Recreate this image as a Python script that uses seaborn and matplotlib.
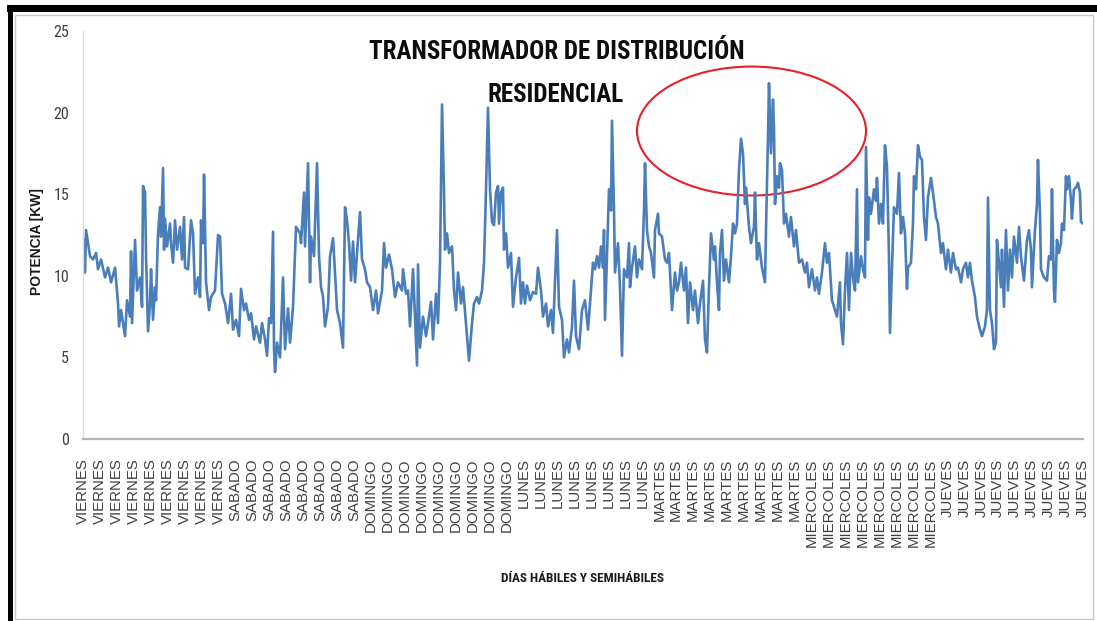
import matplotlib
matplotlib.use("Agg")
import numpy as np
import matplotlib.pyplot as plt
from matplotlib.patches import Arc, Rectangle
from matplotlib import font_manager
import seaborn as sns

# Días (etiquetas del eje X) y cuántas veces se repite cada uno
dias = ['VIERNES', 'SABADO', 'DOMINGO', 'LUNES', 'MARTES', 'MIERCOLES', 'JUEVES']
repeticiones = [9, 8, 9, 8, 9, 8, 9]

# Tiempo desde el inicio de la medición [min] y potencia medida [kW]
tiempo_min = [
    0, 20, 30, 70, 100, 130, 150, 180, 220, 250, 280, 320, 350, 360, 380, 420, 440, 470, 480, 490,
    520, 540, 570, 590, 600, 620, 630, 650, 670, 680, 700, 720, 730, 750, 770, 780, 800, 810, 820, 840,
    870, 880, 900, 920, 940, 970, 990, 1010, 1020, 1050, 1080, 1100, 1120, 1150, 1170, 1180, 1200, 1210, 1230, 1260,
    1280, 1320, 1350, 1370, 1390, 1420, 1450, 1480, 1500, 1530, 1560, 1580, 1610, 1630, 1660, 1680, 1710, 1730, 1770, 1790,
    1820, 1840, 1860, 1880, 1900, 1910, 1920, 1940, 1970, 2000, 2020, 2050, 2070, 2100, 2130, 2170, 2180, 2210, 2220, 2250,
    2270, 2280, 2310, 2340, 2360, 2380, 2400, 2420, 2450, 2470,
    2500, 2520, 2540, 2570, 2600, 2620, 2640, 2660, 2680, 2700, 2720, 2740, 2770, 2790, 2820, 2840, 2870, 2900, 2930, 2950,
    2990, 3010, 3030, 3060, 3090, 3120, 3150, 3190, 3200, 3230, 3250, 3270, 3300, 3320, 3340, 3350, 3370, 3400, 3430, 3450,
    3480, 3500, 3530, 3550, 3570, 3590, 3610, 3620, 3640, 3660, 3690, 3710, 3730, 3750, 3780, 3800, 3840, 3860, 3890, 3910,
    3940, 3960, 3990, 4010, 4030, 4050, 4070, 4090, 4110, 4130, 4150, 4160, 4180, 4200, 4210, 4230, 4250, 4280, 4300, 4330,
    4360, 4380, 4400, 4420, 4440, 4470, 4500, 4530, 4550, 4580, 4600, 4630, 4650, 4680, 4700, 4720, 4740, 4760, 4790, 4810,
    4840, 4860, 4890, 4910, 4930, 4960, 4990,
    5020, 5050, 5070, 5100, 5120, 5140, 5160, 5180, 5200, 5210, 5220, 5240, 5260, 5280, 5290, 5310, 5320, 5350, 5370, 5390,
    5410, 5440, 5460, 5470, 5490, 5520, 5540, 5560, 5590, 5610, 5620, 5640, 5660, 5680, 5710, 5720, 5750, 5760, 5790, 5820,
    5840, 5860, 5890, 5920, 5940, 5960, 5980, 6010, 6030, 6050, 6070, 6100, 6120, 6150, 6170, 6200, 6220, 6240, 6260, 6280,
    6310, 6320, 6340, 6360, 6370, 6390, 6410, 6430, 6460, 6480, 6500, 6520, 6540, 6560, 6580, 6600, 6620, 6630, 6660, 6680,
    6710, 6720, 6740, 6760, 6790, 6820, 6830, 6850, 6860, 6880, 6900, 6910, 6920, 6940, 6960, 6970, 6990, 7010, 7030, 7060,
    7080, 7110, 7130, 7160, 7190, 7220, 7240, 7260, 7290, 7320, 7340, 7360, 7390, 7420, 7440, 7460, 7490,
    7510, 7540, 7570, 7580, 7600, 7620, 7640, 7660, 7680, 7700, 7720, 7740, 7750, 7780, 7800, 7820, 7830, 7850, 7860, 7880,
    7910, 7930, 7940, 7960, 7980, 8000, 8020, 8040, 8060, 8070, 8090, 8110, 8140, 8160, 8180, 8200, 8220, 8240, 8250, 8280,
    8300, 8310, 8330, 8350, 8370, 8390, 8410, 8430, 8450, 8480, 8500, 8530, 8550, 8580, 8600, 8630, 8650, 8680, 8700, 8730,
    8750, 8780, 8800, 8830, 8850, 8870, 8890, 8920, 8940, 8970, 8990, 9020, 9040, 9050, 9070, 9090, 9110, 9130, 9140, 9160,
    9180, 9190, 9210, 9230, 9250, 9270, 9290, 9310, 9340, 9360, 9380, 9410, 9440, 9460, 9480, 9490, 9520, 9540, 9550, 9570,
    9580, 9610, 9640, 9660, 9680, 9690, 9710, 9720, 9740, 9760, 9780, 9790, 9810, 9830, 9840, 9860, 9880, 9890, 9910, 9930,
    9950, 9970, 9980, 10000,
]
potencia_kw = [
    12.3, 10.2, 12.8, 11.2, 11.0, 11.4, 10.4, 11.0, 9.9, 10.5, 9.6, 10.5, 8.3, 6.9, 7.9, 6.3, 8.5, 7.5, 11.5, 7.1,
    12.2, 9.1, 9.9, 8.1, 15.5, 15.1, 11.2, 6.6, 8.3, 10.4, 7.3, 9.3, 8.5, 12.6, 14.2, 12.4, 16.6, 11.6, 13.5, 11.8,
    13.2, 12.0, 10.8, 13.4, 11.6, 13.0, 11.0, 13.6, 10.5, 10.4, 13.4, 12.6, 8.9, 9.9, 8.7, 13.4, 12.0, 16.2, 9.6, 7.9,
    8.7, 9.1, 12.5, 12.4, 8.9, 8.3, 7.1, 8.9, 6.7, 7.3, 6.3, 9.2, 7.9, 8.3, 7.3, 7.7, 6.1, 6.9, 5.9, 7.1,
    6.1, 5.1, 7.4, 7.1, 12.7, 5.5, 4.1, 5.9, 5.0, 9.9, 5.5, 8.0, 5.9, 8.1, 13.0, 12.6, 12.0, 15.1, 11.8, 16.9,
    9.6, 12.4, 11.2, 16.9, 11.2, 9.3, 8.7, 6.9, 8.1, 11.2,
    12.3, 10.2, 7.9, 7.1, 5.6, 14.2, 13.4, 12.0, 9.7, 12.1, 9.6, 11.4, 13.9, 11.0, 10.4, 9.6, 9.3, 7.9, 9.1, 7.7,
    9.1, 12.0, 10.5, 11.3, 10.4, 8.7, 9.6, 9.1, 10.4, 8.9, 9.1, 6.9, 10.4, 7.5, 4.5, 10.7, 5.6, 7.5, 6.3, 7.1,
    8.4, 6.1, 8.9, 7.1, 10.8, 20.5, 15.1, 11.6, 12.6, 11.4, 11.8, 9.1, 7.9, 10.2, 8.3, 9.3, 6.3, 4.8, 7.1, 8.3,
    8.7, 8.3, 9.1, 10.8, 15.3, 20.3, 15.3, 13.3, 13.1, 15.1, 15.5, 13.2, 15.1, 15.4, 11.6, 12.6, 10.5, 11.4, 8.1, 9.9,
    11.1, 8.3, 9.6, 8.3, 9.4, 8.5, 9.0, 8.9, 10.5, 9.1, 7.5, 8.3, 6.9, 7.9, 6.5, 9.7, 12.8, 8.1, 7.3, 5.0,
    6.1, 5.3, 6.9, 9.7, 6.3, 5.5, 7.9,
    8.5, 6.7, 8.3, 10.8, 10.4, 11.2, 10.5, 11.8, 10.5, 12.8, 7.3, 11.2, 15.3, 14.0, 19.5, 14.0, 10.2, 12.0, 9.3, 5.1,
    10.4, 9.9, 12.0, 9.3, 10.5, 11.8, 9.9, 11.0, 10.4, 14.0, 16.9, 12.8, 11.8, 11.4, 9.9, 12.8, 13.8, 12.6, 12.4, 11.0,
    10.8, 11.4, 7.9, 10.2, 9.1, 9.6, 10.8, 9.1, 10.5, 7.1, 9.6, 7.9, 9.1, 7.1, 8.3, 9.7, 6.1, 5.3, 9.3, 12.6,
    11.0, 11.8, 9.6, 7.9, 11.4, 12.8, 9.7, 11.0, 9.6, 11.2, 13.2, 12.6, 13.2, 16.5, 18.4, 17.5, 14.4, 15.4, 13.0, 12.0,
    13.0, 15.1, 11.0, 12.0, 10.5, 9.6, 12.8, 18.5, 21.8, 17.5, 20.8, 19.1, 14.4, 16.1, 15.4, 16.9, 16.5, 13.2, 13.8, 12.4,
    13.6, 11.8, 12.8, 10.8, 11.0, 10.2, 10.8, 9.3, 10.4, 9.1, 9.9, 8.9, 10.2, 12.0, 10.8, 11.4, 8.5,
    8.1, 7.5, 9.6, 7.1, 5.8, 9.1, 11.4, 7.9, 11.4, 9.9, 9.1, 15.3, 9.6, 11.2, 10.4, 9.9, 17.9, 12.2, 14.8, 13.8,
    15.3, 14.6, 16.0, 13.2, 14.4, 13.2, 18.0, 16.7, 11.2, 6.5, 10.5, 14.2, 13.8, 16.3, 12.6, 13.6, 12.6, 9.2, 10.5, 10.8,
    13.2, 16.1, 15.3, 18.0, 17.3, 17.1, 13.6, 12.2, 14.8, 16.0, 15.1, 13.6, 13.2, 11.4, 12.0, 10.4, 11.6, 10.2, 11.4, 10.4,
    10.5, 9.6, 10.4, 10.8, 9.9, 10.8, 9.7, 8.7, 7.5, 6.7, 6.3, 6.9, 7.9, 14.8, 7.9, 7.1, 5.5, 5.9, 12.2, 10.8,
    9.3, 11.6, 8.1, 12.8, 9.1, 11.6, 9.9, 12.4, 10.8, 13.0, 11.2, 9.7, 12.2, 12.8, 11.6, 9.3, 12.8, 14.4, 17.1, 13.8,
    10.4, 9.9, 9.7, 11.2, 11.0, 15.3, 9.1, 8.4, 12.2, 11.4, 12.0, 13.2, 12.8, 16.1, 15.3, 16.1, 14.6, 13.5, 15.3, 15.4,
    15.7, 15.1, 13.3, 13.2,
]

etiquetas_x = [d for d, n in zip(dias, repeticiones) for _ in range(n)]

sns.set_theme(style="white")
plt.rcParams['font.family'] = ['Liberation Sans', 'DejaVu Sans']

# Buscar una fuente condensada instalada, si hay alguna
instaladas = {f.name for f in font_manager.fontManager.ttflist}
condensadas = [f for f in ['Roboto Condensed', 'Liberation Sans Narrow', 'DejaVu Sans Condensed',
                           'Open Sans Condensed'] if f in instaladas]
narrow = condensadas[:1] + ['Liberation Sans', 'DejaVu Sans']
hay_narrow = bool(condensadas)
esc = 1.0 if hay_narrow else 0.8

fig = plt.figure(figsize=(10.97, 6.21), dpi=100)
ax = fig.add_axes([0.0757, 0.2931, 0.9115, 0.657])

sns.lineplot(x=tiempo_min, y=potencia_kw, ax=ax, color='#4a7ebb', linewidth=1.9,
             estimator=None, sort=False)

ax.set_xlim(0, tiempo_min[-1])
ax.set_ylim(0, 25)
ax.set_yticks(range(0, 26, 5))
ax.set_yticklabels([str(v) for v in range(0, 26, 5)], family=narrow, fontsize=11.5 * (esc ** 0.5),
                   color='#404040')
ax.set_xticks(np.linspace(0, tiempo_min[-1], len(etiquetas_x)))
ax.set_xticklabels(etiquetas_x, rotation=90, fontsize=10.8, color='#404040', va='top', ha='center')
ax.tick_params(axis='x', length=0, pad=14)
ax.tick_params(axis='y', length=0, pad=10)

for s in ['top', 'right']:
    ax.spines[s].set_visible(False)
ax.spines['left'].set_color('#d9d9d9')
ax.spines['left'].set_linewidth(1.0)
ax.spines['bottom'].set_color('#b3b3b3')
ax.spines['bottom'].set_linewidth(1.6)

ax.set_xlabel('')
ax.set_ylabel('')
fig.text(37 / 1097, 1 - 242 / 621, 'POTENCIA [KW]', rotation=90, ha='center', va='center',
         fontsize=10, fontweight='bold', color='#1a1a1a')
fig.text(582 / 1097, 1 - 579 / 621, 'DÍAS HÁBILES Y SEMIHÁBILES', ha='center', va='center',
         fontsize=9.5 * esc, fontweight='bold', family=narrow, color='#1a1a1a')

# Título
fig.text(557 / 1097, 1 - 52 / 621, 'TRANSFORMADOR DE DISTRIBUCIÓN', ha='center', va='center',
         fontsize=18 * esc, fontweight='bold', family=narrow, color='#0d0d0d')
fig.text(556 / 1097, 1 - 95 / 621, 'RESIDENCIAL', ha='center', va='center',
         fontsize=18 * esc, fontweight='bold', family=narrow, color='#0d0d0d')

# Elipse roja que resalta el pico máximo
ax.add_patch(Arc((6685, 18.87), 2290, 7.9, theta1=95, theta2=450, color='#e8202a',
                 linewidth=1.5, clip_on=False))

# Marco de la imagen
W, H = 1097, 621
fig.add_artist(Rectangle((15 / W, 1 - 619 / H), (1093 - 15) / W, (619 - 15) / H,
                         transform=fig.transFigure, fill=False, edgecolor='#c8c8c8', linewidth=1))
fig.add_artist(Rectangle((7 / W, 1 - 12 / H), (W - 7) / W, 7 / H,
                         transform=fig.transFigure, color='black', linewidth=0))
fig.add_artist(Rectangle((8 / W, 0), 5 / W, 1 - 5 / H,
                         transform=fig.transFigure, color='black', linewidth=0))

fig.savefig('out.png', dpi=100)
